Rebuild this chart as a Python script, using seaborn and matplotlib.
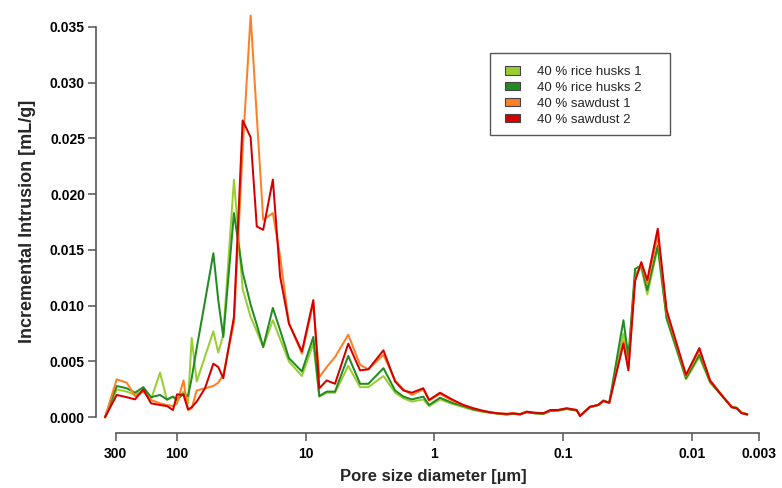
import numpy as np
import pandas as pd
import matplotlib
matplotlib.use("Agg")
import matplotlib.pyplot as plt
import seaborn as sns
from matplotlib.patches import Patch, Rectangle

# Pore size diameter [µm]
pore_size = [362.5, 294.1, 245.9, 212.1, 182.7, 159.2, 135.5, 119.6, 107.4, 100.0,
             89.0, 82.1, 76.9, 70.3, 60.6, 52.2, 47.8, 43.7, 36.1, 30.9,
             26.8, 24.0, 21.4, 18.0, 15.8, 13.5, 10.7, 8.73, 7.84, 6.87,
             5.92, 4.67, 3.78, 3.26, 2.49, 2.02, 1.74, 1.50, 1.22, 1.10,
             0.905, 0.730, 0.596, 0.498, 0.427, 0.370, 0.320, 0.274, 0.245, 0.216,
             0.192, 0.165, 0.142, 0.126, 0.110, 0.0938, 0.0784, 0.0739, 0.0618, 0.0533,
             0.0487, 0.0438, 0.0340, 0.0311, 0.0276, 0.0247, 0.0222, 0.0184, 0.0157, 0.0111,
             0.00874, 0.00722, 0.00604, 0.00490, 0.00448, 0.00410, 0.00371]

# Incremental intrusion [mL/g] (x 0.001)
rice_husks_1 = [0, 2.5, 2.3, 2.0, 2.45, 1.6, 4.0, 1.55, 1.85, 1.4,
                2.3, 1.25, 7.1, 3.2, 5.45, 7.7, 5.8, 7.4, 21.3, 11.5,
                9.0, 7.7, 6.3, 8.7, 7.0, 5.0, 3.7, 6.6, 1.85, 2.2,
                2.2, 4.6, 2.7, 2.7, 3.7, 2.2, 1.7, 1.4, 1.6, 1.0,
                1.6, 1.2, 0.9, 0.65, 0.5, 0.4, 0.33, 0.25, 0.3, 0.25,
                0.45, 0.35, 0.3, 0.55, 0.6, 0.75, 0.6, 0.15, 0.9, 1.1,
                1.5, 1.3, 7.5, 5.0, 12.9, 13.4, 11.0, 15.2, 8.8, 3.4,
                5.4, 3.1, 2.1, 0.9, 0.85, 0.4, 0.2]
rice_husks_2 = [0, 2.8, 2.6, 2.2, 2.7, 1.8, 2.0, 1.6, 1.85, 1.6,
                2.1, 1.9, 3.5, 6.2, 10.4, 14.7, 10.5, 7.2, 18.3, 13.0,
                10.1, 8.3, 6.3, 9.8, 7.8, 5.3, 4.1, 7.2, 1.9, 2.3,
                2.3, 5.5, 3.0, 3.0, 4.4, 2.4, 1.85, 1.6, 1.85, 1.1,
                1.75, 1.3, 1.0, 0.7, 0.55, 0.42, 0.33, 0.25, 0.32, 0.25,
                0.45, 0.35, 0.32, 0.55, 0.6, 0.75, 0.6, 0.15, 0.9, 1.1,
                1.5, 1.3, 8.7, 5.4, 13.3, 13.6, 11.4, 15.4, 8.9, 3.5,
                5.6, 3.2, 2.15, 0.95, 0.85, 0.4, 0.25]
sawdust_1 = [0, 3.4, 3.1, 1.9, 2.3, 1.55, 1.25, 1.1, 1.0, 1.25,
             3.3, 0.65, 0.8, 2.4, 2.6, 2.8, 3.1, 3.8, 8.5, 24.0,
             36.0, 27.0, 17.7, 18.3, 14.4, 8.4, 5.7, 10.2, 3.6, 4.5,
             5.4, 7.4, 4.7, 4.3, 5.6, 3.3, 2.5, 2.0, 2.5, 1.5,
             2.1, 1.5, 1.1, 0.8, 0.6, 0.45, 0.35, 0.3, 0.35, 0.3,
             0.5, 0.4, 0.36, 0.6, 0.65, 0.8, 0.65, 0.15, 0.95, 1.1,
             1.45, 1.3, 6.8, 4.4, 12.4, 13.8, 12.0, 16.3, 9.4, 3.7,
             6.0, 3.3, 2.2, 0.9, 0.8, 0.4, 0.3]
sawdust_2 = [0, 2.0, 1.8, 1.6, 2.5, 1.25, 1.1, 1.0, 0.65, 2.05,
             2.0, 0.7, 0.9, 1.4, 2.6, 4.8, 4.5, 3.5, 9.0, 26.6,
             25.1, 17.1, 16.8, 21.3, 12.6, 8.4, 5.9, 10.5, 2.6, 3.3,
             3.0, 6.6, 4.2, 4.3, 6.0, 3.2, 2.4, 2.2, 2.6, 1.55,
             2.2, 1.6, 1.1, 0.8, 0.6, 0.45, 0.35, 0.3, 0.35, 0.27,
             0.5, 0.4, 0.36, 0.65, 0.65, 0.8, 0.65, 0.1, 0.95, 1.1,
             1.46, 1.3, 6.6, 4.2, 12.2, 13.9, 12.3, 16.9, 9.6, 3.8,
             6.2, 3.3, 2.15, 0.9, 0.8, 0.36, 0.27]

series_names = ["40 % rice husks 1", "40 % rice husks 2", "40 % sawdust 1", "40 % sawdust 2"]
colors = ["#9ACD32", "#228B22", "#FF7F24", "#D40000"]

x_ticks = [300, 100, 10, 1, 0.1, 0.01, 0.003]
x_tick_labels = ["300", "100", "10", "1", "0.1", "0.01", "0.003"]
y_ticks = [0.000, 0.005, 0.010, 0.015, 0.020, 0.025, 0.030, 0.035]
y_tick_labels = ["0.000", "0.005", "0.010", "0.015", "0.020", "0.025", "0.030", "0.035"]

frames = []
for name, vals in zip(series_names, [rice_husks_1, rice_husks_2, sawdust_1, sawdust_2]):
    frames.append(pd.DataFrame({"pore": pore_size,
                                "intrusion": np.array(vals) / 1000.0,
                                "series": name}))
df = pd.concat(frames, ignore_index=True)

sns.set_style("white")
plt.rcParams["font.family"] = ["Liberation Sans", "DejaVu Sans"]

W, H = 782, 488
fig = plt.figure(figsize=(W / 100, H / 100), dpi=100)
ax = fig.add_axes([96 / W, 55 / H, 674 / W, 423 / H])

sns.lineplot(data=df, x="pore", y="intrusion", hue="series", hue_order=series_names,
             palette=colors, linewidth=1.45, sort=False, estimator=None, ax=ax,
             legend=False)

ax.set_xscale("log")
ax.set_xlim(426.0, 0.00247)
ax.set_ylim(-0.00141, 0.0365)
ax.minorticks_off()

ax.set_xticks(x_ticks)
ax.set_xticklabels(x_tick_labels, fontsize=10, fontweight="bold")
ax.set_yticks(y_ticks)
ax.set_yticklabels(y_tick_labels, fontsize=10, fontweight="bold")

for s in ["top", "right"]:
    ax.spines[s].set_visible(False)
for s in ["left", "bottom"]:
    ax.spines[s].set_color("#555555")
    ax.spines[s].set_linewidth(1.2)
ax.spines["left"].set_bounds(0.0, 0.035)
ax.spines["bottom"].set_bounds(300, 0.003)
ax.tick_params(axis="both", direction="out", length=5.5, width=1.1, color="#555555",
               labelcolor="black", left=True, bottom=True)
ax.tick_params(axis="x", pad=4.5)
ax.tick_params(axis="y", pad=2.5)

ax.set_xlabel("Pore size diameter [µm]", fontsize=12, fontweight="bold", labelpad=6)
ax.set_ylabel("Incremental Intrusion [mL/g]", fontsize=13, fontweight="bold", labelpad=10)

# legend frame (R style box)
fig.add_artist(Rectangle((490 / W, (H - 135) / H), 180 / W, 82 / H,
                         transform=fig.transFigure, fill=False,
                         edgecolor="#555555", linewidth=1.0))
handles = [Patch(facecolor=c, edgecolor="#444444", linewidth=0.8) for c in colors]
leg = fig.legend(handles, series_names, loc="upper left",
                 bbox_to_anchor=(505 / W, (H - 66) / H), bbox_transform=fig.transFigure,
                 fontsize=9.5, frameon=False, handlelength=1.1,
                 handleheight=0.6, handletextpad=1.3, labelspacing=0.3,
                 borderpad=0.0, borderaxespad=0.0)

fig.savefig("out.png", dpi=100, facecolor="white")
